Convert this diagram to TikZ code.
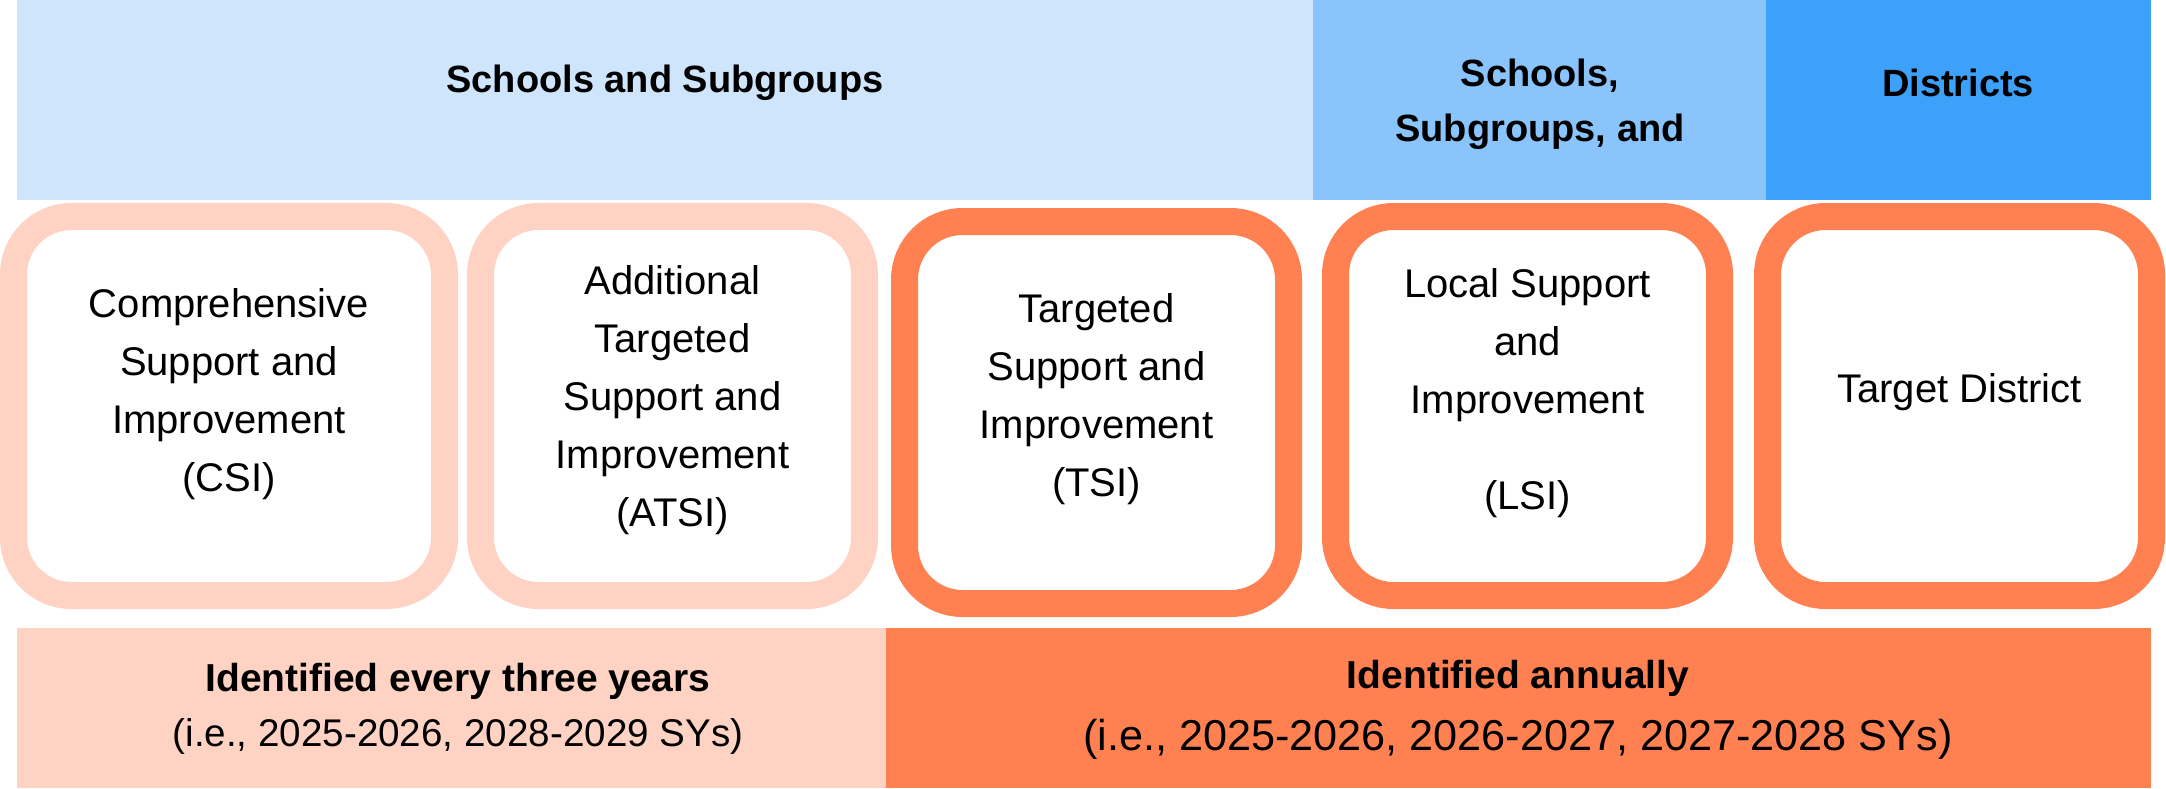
\documentclass[tikz,border=0pt]{standalone}
\usepackage{fontspec}
\setmainfont{Liberation Sans}
\definecolor{bandA}{HTML}{CFE5FC}
\definecolor{bandB}{HTML}{8AC4FC}
\definecolor{bandC}{HTML}{3DA1FA}
\definecolor{salmonA}{HTML}{FFD3C4}
\definecolor{salmonB}{HTML}{FF8152}
\begin{document}
\begin{tikzpicture}[x=0.5pt,y=-0.5pt,
  card/.style={draw=#1, line width=13.5pt, rounded corners=29pt, fill=white,
    minimum width=192pt, minimum height=189.5pt, inner sep=0pt},
  boxtext/.style={align=center, font=\fontsize{20}{29}\selectfont, inner sep=0pt},
  headtext/.style={align=center, font=\fontsize{19}{27.5}\selectfont\bfseries, inner sep=0pt},
  foottitle/.style={align=center, font=\fontsize{19.5}{24}\selectfont\bfseries, inner sep=0pt},
  footnote/.style={align=center, inner sep=0pt}]
\useasboundingbox (0,0) rectangle (2166,788);
% top bands
\fill[bandA] (17,0) rectangle (1313,200);
\fill[bandB] (1313,0) rectangle (1766,200);
\fill[bandC] (1766,0) rectangle (2151,200);
\node[headtext] (hA) at (665,83) {Schools and Subgroups};
\node[headtext] (hB) at (1540,104) {Schools,\\Subgroups, and};
\node[headtext] (hC) at (1958,83) {Districts};
% cards
\node[card=salmonA, minimum width=215.5pt] (csi) at (229,406) {};
\node[card=salmonA] (atsi) at (672.5,406) {};
\node[card=salmonB, minimum height=191pt] (tsi) at (1096.5,412.5) {};
\node[card=salmonB] (lsi) at (1527.5,406) {};
\node[card=salmonB] (td) at (1959.5,406) {};
\node[boxtext] (csiT) at (229,394) {Comprehensive\\Support and\\Improvement\\(CSI)};
\node[boxtext] (atsiT) at (672.5,400) {Additional\\Targeted\\Support and\\Improvement\\(ATSI)};
\node[boxtext] (tsiT) at (1096.5,399) {Targeted\\Support and\\Improvement\\(TSI)};
\node[boxtext] (lsiT) at (1527.5,393) {Local Support\\and\\Improvement\\[19pt](LSI)};
\node[boxtext] (tdT) at (1959.5,392) {Target District};
% bottom bands
\fill[salmonA] (17,628) rectangle (886,788);
\fill[salmonB] (886,628) rectangle (2151,788);
\node[foottitle] (fA) at (458,681) {Identified every three years};
\node[footnote, font=\fontsize{19.3}{24}\selectfont] (fAs) at (458,736) {(i.e., 2025-2026, 2028-2029 SYs)};
\node[foottitle] (fB) at (1518,678) {Identified annually};
\node[footnote, font=\fontsize{21.6}{26}\selectfont] (fBs) at (1518,739) {(i.e., 2025-2026, 2026-2027, 2027-2028 SYs)};
\end{tikzpicture}
\end{document}
